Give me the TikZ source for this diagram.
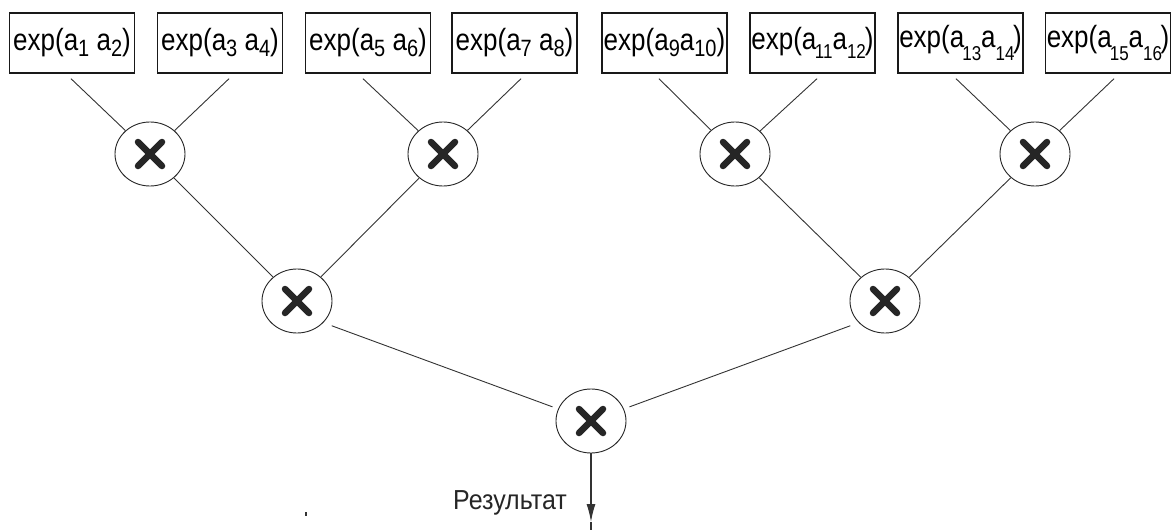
\documentclass[tikz,border=0pt]{standalone}
\usepackage{fontspec}
\setmainfont{Liberation Sans}
\usetikzlibrary{arrows.meta,calc,shapes.geometric}
\newcommand\lo[2]{\raisebox{-#1pt}{\fontsize{20}{20}\selectfont #2}}
\newcommand\los[2]{\raisebox{-#1pt}{\fontsize{17}{17}\selectfont #2}}
\newcommand\bt[1]{\scalebox{1}[1.18]{#1}}
\begin{document}
\begin{tikzpicture}[x=1pt,y=-1pt,
  box/.style={draw=black!90,line width=1.4pt,minimum width=125pt,minimum height=60pt,inner sep=0pt,
    font=\fontsize{26}{26}\selectfont},
  mul/.style={draw=black!85,line width=0.9pt,ellipse,minimum width=70pt,minimum height=64pt,inner sep=0pt,
    path picture={
      \draw[line width=6.5pt,line cap=round]
        ([shift={(-12pt,-12pt)}]path picture bounding box.center) -- ([shift={(12pt,12pt)}]path picture bounding box.center);
      \draw[line width=6.5pt,line cap=round]
        ([shift={(-12pt,12pt)}]path picture bounding box.center) -- ([shift={(12pt,-12pt)}]path picture bounding box.center);
    }},
  conn/.style={draw=black!80,line width=0.9pt}]
\useasboundingbox (0,0) rectangle (1171,530);
% boxes
\node[box] (b1) at (72,43)   {\bt{exp(a\lo{5}{1} a\lo{5}{2})}};
\node[box] (b2) at (220,43)  {\bt{exp(a\lo{5}{3} a\lo{5}{4})}};
\node[box] (b3) at (368,43)  {\bt{exp(a\lo{5}{5} a\lo{5}{6})}};
\node[box] (b4) at (514.5,43){\bt{exp(a\lo{5}{7} a\lo{5}{8})}};
\node[box] (b5) at (664.5,43){\bt{exp(a\lo{5}{9}a\lo{5}{10})}};
\node[box] (b6) at (812.5,43){\bt{exp(a\kern-1.5pt\los{8}{11}a\los{8}{12}\kern-1pt)}};
\node[box] (b7) at (960.5,43){\bt{exp(a\kern-2pt\los{11}{13}a\los{11}{14}\kern-1.5pt)}};
\node[box] (b8) at (1108,43) {\bt{exp(a\kern-2pt\los{11}{15}a\los{11}{16}\kern-1.5pt)}};
% multipliers
\node[mul] (m1) at (150,154) {};
\node[mul] (m2) at (443,154) {};
\node[mul] (m3) at (735,154) {};
\node[mul] (m4) at (1035,154) {};
\node[mul] (n1) at (297,301) {};
\node[mul] (n2) at (885,301) {};
\node[mul] (r)  at (591,421) {};
% connectors boxes -> level 1
\draw[conn] ([xshift=-1pt,yshift=-5pt]b1.south) -- (m1);
\draw[conn] ([xshift=9pt,yshift=-5pt]b2.south) -- (m1);
\draw[conn] ([xshift=-5pt,yshift=-5pt]b3.south) -- (m2);
\draw[conn] ([xshift=6.5pt,yshift=-5pt]b4.south) -- (m2);
\draw[conn] ([xshift=-5.5pt,yshift=-5pt]b5.south) -- (m3);
\draw[conn] ([xshift=4.5pt,yshift=-5pt]b6.south) -- (m3);
\draw[conn] ([xshift=-4.5pt,yshift=-5pt]b7.south) -- (m4);
\draw[conn] ([xshift=6pt,yshift=-5pt]b8.south) -- (m4);
% level 1 -> level 2
\draw[conn] (m1) -- (n1);
\draw[conn] (m2) -- (n1);
\draw[conn] (m3) -- (n2);
\draw[conn] (m4) -- (n2);
% level 2 -> result
\draw[conn,shorten <=37pt,shorten >=6pt] ([yshift=-12pt]n1.center) -- (r);
\draw[conn,shorten <=37pt,shorten >=6pt] ([yshift=-12pt]n2.center) -- (r);
% output arrow
\coordinate (tip) at (591,522);
\coordinate (bot) at (591,530);
\draw[conn,line width=1.4pt,-{Latex[length=18pt,width=9pt]}] (r) -- (tip);
\draw[conn,line width=1.4pt] (tip) -- (bot);
\node[font=\fontsize{25}{25}\selectfont,text=black!85] (lbl) at (510,503) {\scalebox{1}[1.1]{Результат}};
\fill[black!80] (305,512) rectangle (307,516);
\end{tikzpicture}
\end{document}
